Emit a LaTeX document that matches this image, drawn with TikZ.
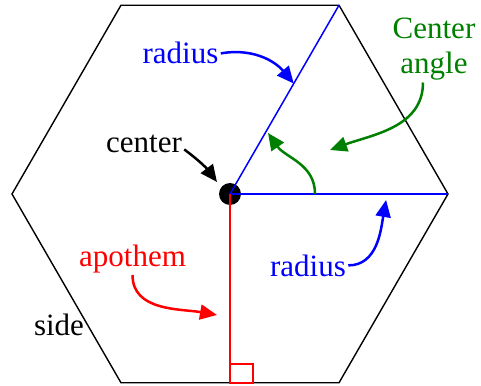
\documentclass[tikz,border=0pt]{standalone}
\usepackage{fontspec}
\setmainfont{Liberation Serif}
\usetikzlibrary{arrows.meta, positioning, calc}

\begin{document}
\begin{tikzpicture}[
  x=0.5pt, y=0.5pt,
  font=\fontsize{15.5}{17.5}\selectfont,
  edge/.style={line width=0.7pt, line join=miter},
  segment/.style={line width=0.75pt},
  pointer/.style={line width=1.25pt, -{Triangle[length=8.5pt, width=7.5pt]}},
  lbl/.style={inner sep=1pt, anchor=base}
]

  \useasboundingbox (-230,-191) rectangle (251,194);

  % corners of the hexagon
  \coordinate (O) at (0,0);
  \coordinate (c0) at (0:218);
  \coordinate (c1) at (60:218);
  \coordinate (c2) at (120:218);
  \coordinate (c3) at (180:218);
  \coordinate (c4) at (240:218);
  \coordinate (c5) at (300:218);
  \draw[edge] (c0) -- (c1) -- (c2) -- (c3) -- (c4) -- (c5) -- cycle;

  % foot of the apothem on the bottom side
  \coordinate (foot) at ($(c4)!0.5!(c5)$);

  \node[circle, fill=black, inner sep=0pt, minimum size=11pt] (dot) at (O) {};
  \draw[segment, blue] (O) -- (c0);
  \draw[segment, blue] (O) -- (c1);
  \draw[segment, red] (O) -- (foot);
  \draw[segment, red] (foot) rectangle ++(23,19);

  % labels
  \node[lbl, blue] (radiusA) at (-49.5,130) {radius};
  \node[lbl, blue] (radiusB) at (78,-82) {radius};
  \node[lbl] (centerlbl) at (-86,41) {center};
  \node[lbl, red] (apothem) at (-97.5,-72) {apothem};
  \node[lbl] (side) at (-171,-141) {side};
  \node[align=center, inner sep=1pt, text=green!50!black] (angle) at (204,145) {Center\\angle};

  % where the arrows point
  \coordinate (radiusAtip) at ($(O)!0.585!(c1)$);
  \coordinate (radiusBtip) at ($(O)!0.716!(c0)+(0,-6)$);
  \coordinate (dottip) at (-13,12);
  \coordinate (foottip) at (-13,-121);
  \coordinate (arcstart) at ($(O)!0.39!(c0)$);
  \coordinate (arctip) at (38,61);
  \coordinate (angletip) at (100,44);

  \draw[pointer, blue] (radiusA.east) to[out=10, in=130] (radiusAtip);
  \draw[pointer, blue] (radiusB.east) to[out=0, in=-100] (radiusBtip);
  \draw[pointer] ($(centerlbl.east)+(0,-5)$) to[bend left=8] (dottip);
  \draw[pointer, red] (apothem.south) to[out=-90, in=170] (foottip);
  \draw[pointer, green!50!black] ($(angle.south)+(-11,0)$) to[out=-90, in=20] (angletip);
  \draw[pointer, green!50!black] (arcstart) to[out=90, in=-55] (arctip);

\end{tikzpicture}
\end{document}
